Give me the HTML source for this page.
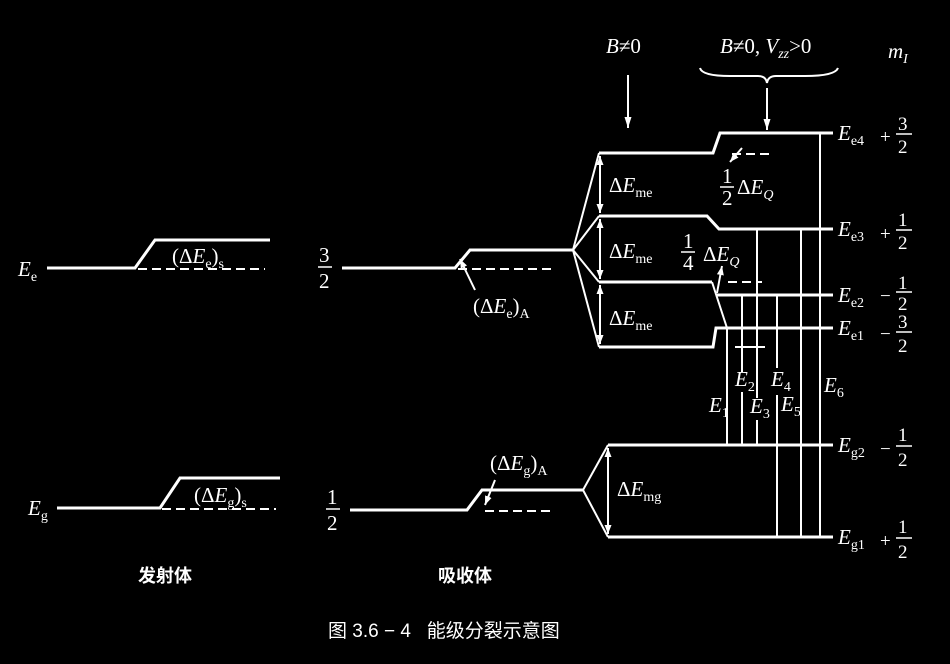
<!DOCTYPE html>
<html><head><meta charset="utf-8"><style>
html,body{margin:0;padding:0;background:#000;}
svg{display:block}
text{fill:#fff;font-family:"Liberation Serif","Noto Serif CJK SC",serif;}
.i{font-style:italic}
.cj{font-family:"Liberation Sans","Noto Sans CJK SC",sans-serif;font-weight:bold}
</style></head><body>
<svg width="950" height="664" viewBox="0 0 950 664" xmlns="http://www.w3.org/2000/svg">
<defs><marker id="a" markerWidth="10" markerHeight="8" refX="9" refY="3.5" orient="auto-start-reverse" markerUnits="userSpaceOnUse"><path d="M0,0 L9,3.5 L0,7 Z" fill="#fff"/></marker>
<marker id="b" markerWidth="12" markerHeight="8" refX="11" refY="3.5" orient="auto" markerUnits="userSpaceOnUse"><path d="M0,0 L11,3.5 L0,7 Z" fill="#fff"/></marker></defs>
<g stroke="#fff" fill="none" stroke-width="3">
<polyline points="47,268 135,268 155,240 270,240"/>
<line x1="138" y1="269" x2="265" y2="269" stroke-dasharray="9,5" stroke-width="2"/>
<polyline points="57,508 160,508 180,478 280,478"/>
<line x1="162" y1="509" x2="276" y2="509" stroke-dasharray="9,5" stroke-width="2"/>
<polyline points="342,268 455,268 470,250 573,250"/>
<line x1="458" y1="269" x2="555" y2="269" stroke-dasharray="9,5" stroke-width="2"/>
<g stroke-width="2">
<line x1="573" y1="250" x2="599" y2="153"/><line x1="573" y1="250" x2="599" y2="216"/>
<line x1="573" y1="250" x2="599" y2="282"/><line x1="573" y1="250" x2="599" y2="347"/>
</g>
<polyline points="599,153 713,153 720,133 833,133"/>
<polyline points="599,216 707,216 719,229 833,229"/>
<polyline points="599,282 712,282"/>
<line x1="712" y1="282" x2="727" y2="328" stroke-width="2"/>
<line x1="716" y1="295" x2="833" y2="295"/>
<polyline points="599,347 713,347 716,328 833,328"/>
<line x1="732" y1="154" x2="772" y2="154" stroke-dasharray="9,5" stroke-width="2"/>
<line x1="728" y1="282" x2="762" y2="282" stroke-dasharray="9,5" stroke-width="2"/>
<polyline points="350,510 467,510 482,490 583,490"/>
<line x1="485" y1="511" x2="555" y2="511" stroke-dasharray="9,5" stroke-width="2"/>
<g stroke-width="2"><line x1="583" y1="490" x2="608" y2="445"/><line x1="583" y1="490" x2="608" y2="537"/></g>
<line x1="608" y1="445" x2="833" y2="445"/>
<line x1="608" y1="537" x2="833" y2="537"/>
<g stroke-width="2">
<line x1="727" y1="328" x2="727" y2="445"/>
<line x1="742" y1="295" x2="742" y2="372"/><line x1="742" y1="392" x2="742" y2="445"/>
<line x1="757" y1="229" x2="757" y2="398"/><line x1="757" y1="420" x2="757" y2="445"/>
<line x1="777" y1="295" x2="777" y2="368"/><line x1="777" y1="395" x2="777" y2="537"/>
<line x1="801" y1="229" x2="801" y2="537"/>
<line x1="820" y1="133" x2="820" y2="537"/>
<line x1="735" y1="347" x2="765" y2="347"/>
<line x1="600" y1="156" x2="600" y2="213" marker-start="url(#a)" marker-end="url(#a)"/>
<line x1="600" y1="219" x2="600" y2="279" marker-start="url(#a)" marker-end="url(#a)"/>
<line x1="600" y1="285" x2="600" y2="344" marker-start="url(#a)" marker-end="url(#a)"/>
<line x1="608" y1="448" x2="608" y2="534" marker-start="url(#a)" marker-end="url(#a)"/>
<line x1="628" y1="75" x2="628" y2="128" marker-end="url(#b)"/>
<line x1="767" y1="88" x2="767" y2="130" marker-end="url(#b)"/>
<path d="M700,68 Q702,76 730,76 L758,76 Q766,76 767,83 Q768,76 776,76 L805,76 Q835,76 838,68"/>
<line x1="475" y1="290" x2="460" y2="259" marker-end="url(#a)"/>
<line x1="495" y1="480" x2="485" y2="505" marker-end="url(#a)"/>
<line x1="742" y1="148" x2="730" y2="162" marker-end="url(#a)"/>
<line x1="717" y1="293" x2="722" y2="266" marker-end="url(#a)"/>
</g>
</g>
<g font-size="21">
<text x="18" y="276" class="i">E<tspan font-size="14" font-style="normal" dy="5">e</tspan></text>
<text x="28" y="515" class="i">E<tspan font-size="14" font-style="normal" dy="5">g</tspan></text>
<text x="172" y="263">(Δ<tspan class="i">E</tspan><tspan font-size="14" dy="5">e</tspan><tspan dy="-5">)</tspan><tspan font-size="14" dy="5">s</tspan></text>
<text x="194" y="502">(Δ<tspan class="i">E</tspan><tspan font-size="14" dy="5">g</tspan><tspan dy="-5">)</tspan><tspan font-size="14" dy="5">s</tspan></text>
<text x="473" y="313">(Δ<tspan class="i">E</tspan><tspan font-size="14" dy="5">e</tspan><tspan dy="-5">)</tspan><tspan font-size="14" dy="5">A</tspan></text>
<text x="490" y="470">(Δ<tspan class="i">E</tspan><tspan font-size="14" dy="5">g</tspan><tspan dy="-5">)</tspan><tspan font-size="14" dy="5">A</tspan></text>
<text x="319" y="262">3</text><line x1="318" y1="267" x2="332" y2="267" stroke="#fff" stroke-width="1.5"/><text x="319" y="288">2</text>
<text x="327" y="504">1</text><line x1="326" y1="509" x2="340" y2="509" stroke="#fff" stroke-width="1.5"/><text x="327" y="530">2</text>
<text x="609" y="192">Δ<tspan class="i">E</tspan><tspan font-size="14" dy="5">me</tspan></text>
<text x="609" y="258">Δ<tspan class="i">E</tspan><tspan font-size="14" dy="5">me</tspan></text>
<text x="609" y="325">Δ<tspan class="i">E</tspan><tspan font-size="14" dy="5">me</tspan></text>
<text x="617" y="496">Δ<tspan class="i">E</tspan><tspan font-size="14" dy="5">mg</tspan></text>
<text x="722" y="183">1</text><line x1="720" y1="187" x2="734" y2="187" stroke="#fff" stroke-width="1.5"/><text x="722" y="205">2</text>
<text x="737" y="194">Δ<tspan class="i">E</tspan><tspan font-size="14" dy="5" class="i">Q</tspan></text>
<text x="683" y="248">1</text><line x1="681" y1="252" x2="695" y2="252" stroke="#fff" stroke-width="1.5"/><text x="683" y="270">4</text>
<text x="703" y="261">Δ<tspan class="i">E</tspan><tspan font-size="14" dy="5" class="i">Q</tspan></text>
<text x="606" y="53" class="i">B<tspan font-style="normal">≠0</tspan></text>
<text x="720" y="53" class="i">B<tspan font-style="normal">≠0, </tspan>V<tspan font-size="14" dy="5">zz</tspan><tspan font-style="normal" dy="-5">&gt;0</tspan></text>
<text x="888" y="58" class="i">m<tspan font-size="14" dy="5">I</tspan></text>
<text x="838" y="140" class="i">E<tspan font-size="14" font-style="normal" dy="5">e4</tspan></text>
<text x="838" y="236" class="i">E<tspan font-size="14" font-style="normal" dy="5">e3</tspan></text>
<text x="838" y="302" class="i">E<tspan font-size="14" font-style="normal" dy="5">e2</tspan></text>
<text x="838" y="335" class="i">E<tspan font-size="14" font-style="normal" dy="5">e1</tspan></text>
<text x="838" y="452" class="i">E<tspan font-size="14" font-style="normal" dy="5">g2</tspan></text>
<text x="838" y="544" class="i">E<tspan font-size="14" font-style="normal" dy="5">g1</tspan></text>
</g>
<g font-size="19">
<text x="880" y="143">+</text><text x="898" y="130">3</text><line x1="896" y1="134" x2="912" y2="134" stroke="#fff" stroke-width="1.5"/><text x="898" y="153">2</text>
<text x="880" y="240">+</text><text x="898" y="226">1</text><line x1="896" y1="230" x2="912" y2="230" stroke="#fff" stroke-width="1.5"/><text x="898" y="249">2</text>
<text x="880" y="302">−</text><text x="898" y="289">1</text><line x1="896" y1="292" x2="912" y2="292" stroke="#fff" stroke-width="1.5"/><text x="898" y="310">2</text>
<text x="880" y="340">−</text><text x="898" y="328">3</text><line x1="896" y1="332" x2="912" y2="332" stroke="#fff" stroke-width="1.5"/><text x="898" y="352">2</text>
<text x="880" y="455">−</text><text x="898" y="441">1</text><line x1="896" y1="446" x2="912" y2="446" stroke="#fff" stroke-width="1.5"/><text x="898" y="466">2</text>
<text x="880" y="547">+</text><text x="898" y="533">1</text><line x1="896" y1="538" x2="912" y2="538" stroke="#fff" stroke-width="1.5"/><text x="898" y="558">2</text>
</g>
<g font-size="21">
<text x="709" y="412" class="i">E<tspan font-size="14" font-style="normal" dy="5">1</tspan></text>
<text x="735" y="386" class="i">E<tspan font-size="14" font-style="normal" dy="5">2</tspan></text>
<text x="750" y="413" class="i">E<tspan font-size="14" font-style="normal" dy="5">3</tspan></text>
<text x="771" y="386" class="i">E<tspan font-size="14" font-style="normal" dy="5">4</tspan></text>
<text x="781" y="411" class="i">E<tspan font-size="14" font-style="normal" dy="5">5</tspan></text>
<text x="824" y="392" class="i">E<tspan font-size="14" font-style="normal" dy="5">6</tspan></text>
</g>
<text x="138" y="582" font-size="18" class="cj">发射体</text>
<text x="438" y="582" font-size="18" class="cj">吸收体</text>
<text x="328" y="637" font-size="19" class="cj" style="font-weight:normal">图 3.6 − 4&#160;&#160;&#160;能级分裂示意图</text>
</svg>
</body></html>
